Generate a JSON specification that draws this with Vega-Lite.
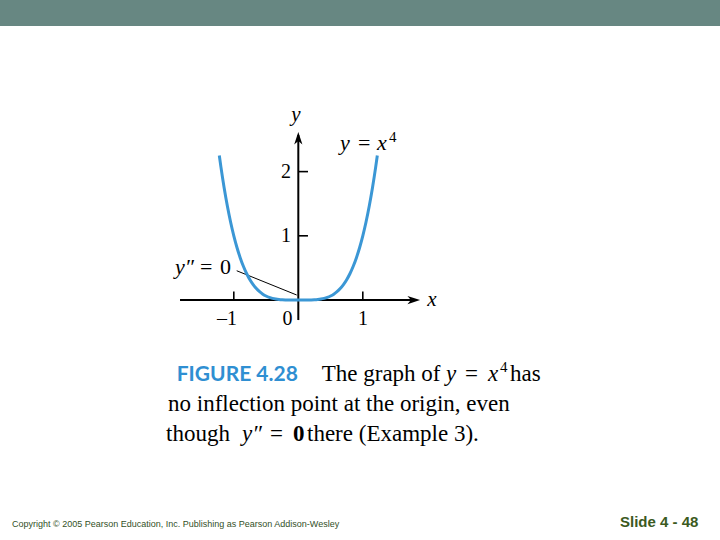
{
  "$schema": "https://vega.github.io/schema/vega-lite/v6.json",
  "width": 720,
  "height": 540,
  "autosize": {"type": "fit", "contains": "padding"},
  "padding": 0,
  "background": "white",
  "config": {"view": {"stroke": null}},
  "datasets": {
    "banner": [{"x": -4.625, "x2": 6.538, "y": 4.268, "y2": 4.673}],
    "curve": [
      {"x": -1.225, "y": 2.2519}, {"x": -1.2, "y": 2.0736}, {"x": -1.15, "y": 1.74901}, {"x": -1.1, "y": 1.4641},
      {"x": -1.05, "y": 1.21551}, {"x": -1.0, "y": 1.0}, {"x": -0.95, "y": 0.81451}, {"x": -0.9, "y": 0.6561},
      {"x": -0.85, "y": 0.52201}, {"x": -0.8, "y": 0.4096}, {"x": -0.75, "y": 0.31641}, {"x": -0.7, "y": 0.2401},
      {"x": -0.65, "y": 0.17851}, {"x": -0.6, "y": 0.1296}, {"x": -0.55, "y": 0.09151}, {"x": -0.5, "y": 0.0625},
      {"x": -0.45, "y": 0.04101}, {"x": -0.4, "y": 0.0256}, {"x": -0.35, "y": 0.01501}, {"x": -0.3, "y": 0.0081},
      {"x": -0.25, "y": 0.00391}, {"x": -0.2, "y": 0.0016}, {"x": -0.15, "y": 0.00051}, {"x": -0.1, "y": 0.0001},
      {"x": -0.05, "y": 0.00001}, {"x": 0.0, "y": 0.0}, {"x": 0.05, "y": 0.00001}, {"x": 0.1, "y": 0.0001},
      {"x": 0.15, "y": 0.00051}, {"x": 0.2, "y": 0.0016}, {"x": 0.25, "y": 0.00391}, {"x": 0.3, "y": 0.0081},
      {"x": 0.35, "y": 0.01501}, {"x": 0.4, "y": 0.0256}, {"x": 0.45, "y": 0.04101}, {"x": 0.5, "y": 0.0625},
      {"x": 0.55, "y": 0.09151}, {"x": 0.6, "y": 0.1296}, {"x": 0.65, "y": 0.17851}, {"x": 0.7, "y": 0.2401},
      {"x": 0.75, "y": 0.31641}, {"x": 0.8, "y": 0.4096}, {"x": 0.85, "y": 0.52201}, {"x": 0.9, "y": 0.6561},
      {"x": 0.95, "y": 0.81451}, {"x": 1.0, "y": 1.0}, {"x": 1.05, "y": 1.21551}, {"x": 1.1, "y": 1.4641},
      {"x": 1.15, "y": 1.74901}, {"x": 1.2, "y": 2.0736}, {"x": 1.225, "y": 2.2519}
    ],
    "axes": [
      {"x": -1.834, "y": 0, "x2": 1.80, "y2": 0},
      {"x": 0, "y": -0.312, "x2": 0, "y2": 2.57}
    ],
    "ticks": [
      {"x": -1, "y": 0, "x2": -1, "y2": 0.132},
      {"x": 1, "y": 0, "x2": 1, "y2": 0.132},
      {"x": 0, "y": 1, "x2": 0.15, "y2": 1},
      {"x": 0, "y": 2, "x2": 0.15, "y2": 2}
    ],
    "leader": [{"x": -0.955, "y": 0.456, "x2": -0.025, "y2": 0.078}],
    "arrows": [
      {"x": 1.79, "y": 0, "dir": "right"},
      {"x": 0, "y": 2.52, "dir": "up"}
    ],
    "ticklabels": [
      {"x": -0.19, "y": 1.896, "label": "2"},
      {"x": -0.19, "y": 0.896, "label": "1"},
      {"x": -1.105, "y": -0.389, "label": "–1"},
      {"x": -0.167, "y": -0.389, "label": "0"},
      {"x": 1.003, "y": -0.389, "label": "1"}
    ],
    "axislabels": [
      {"x": -0.036, "y": 2.788, "label": "y"},
      {"x": 2.073, "y": -0.089, "label": "x"}
    ],
    "mathItalic": [
      {"x": 0.647, "y": 2.341, "label": "y"},
      {"x": 1.22, "y": 2.341, "label": "x"},
      {"x": -1.912, "y": 0.405, "label": "y″"}
    ],
    "mathRegular": [
      {"x": 0.926, "y": 2.341, "label": "="},
      {"x": -1.524, "y": 0.405, "label": "="},
      {"x": -1.214, "y": 0.405, "label": "0"}
    ],
    "mathSup": [{"x": 1.406, "y": 2.461, "label": "4"}],
    "figure": [{"x": -1.885, "y": -1.254, "label": "FIGURE 4.28"}],
    "capRegular": [
      {"x": 0.363, "y": -1.254, "label": "The graph of"},
      {"x": 2.584, "y": -1.254, "label": "="},
      {"x": 3.282, "y": -1.254, "label": "has"},
      {"x": -2.02, "y": -1.721, "label": "no inflection point at the origin, even"},
      {"x": -2.051, "y": -2.196, "label": "though"},
      {"x": -0.439, "y": -2.196, "label": "="},
      {"x": 0.135, "y": -2.196, "label": "there (Example 3)."}
    ],
    "capItalic": [
      {"x": 2.29, "y": -1.254, "label": "y"},
      {"x": 2.941, "y": -1.254, "label": "x"},
      {"x": -0.873, "y": -2.196, "label": "y″"}
    ],
    "capBold": [{"x": -0.082, "y": -2.196, "label": "0"}],
    "capSup": [{"x": 3.127, "y": -1.121, "label": "4"}],
    "copyright": [{"x": -4.439, "y": -3.536, "label": "Copyright © 2005 Pearson Education, Inc.  Publishing as Pearson Addison-Wesley"}],
    "slide": [{"x": 4.988, "y": -3.536, "label": "Slide 4 - 48"}]
  },
  "encoding": {
    "x": {"field": "x", "type": "quantitative", "scale": {"domain": [-4.625, 6.538], "nice": false, "zero": false}, "axis": null},
    "y": {"field": "y", "type": "quantitative", "scale": {"domain": [-3.738, 4.673], "nice": false, "zero": false}, "axis": null}
  },
  "layer": [
    {
      "data": {"name": "banner"},
      "mark": {"type": "rect", "color": "#678782"},
      "encoding": {"x2": {"field": "x2"}, "y2": {"field": "y2"}}
    },
    {
      "data": {"name": "axes"},
      "mark": {"type": "rule", "color": "black", "strokeWidth": 2},
      "encoding": {"x2": {"field": "x2"}, "y2": {"field": "y2"}}
    },
    {
      "data": {"name": "ticks"},
      "mark": {"type": "rule", "color": "black", "strokeWidth": 1.6},
      "encoding": {"x2": {"field": "x2"}, "y2": {"field": "y2"}}
    },
    {
      "data": {"name": "leader"},
      "mark": {"type": "rule", "color": "black", "strokeWidth": 1},
      "encoding": {"x2": {"field": "x2"}, "y2": {"field": "y2"}}
    },
    {
      "data": {"name": "arrows"},
      "mark": {"type": "point", "filled": true, "color": "black", "opacity": 1, "size": 160},
      "encoding": {
        "shape": {"field": "dir", "type": "nominal", "legend": null,
          "scale": {"domain": ["right", "up"], "range": ["M1,0L-1,-0.65L-0.45,0L-1,0.65Z", "M0,-1L-0.65,1L0,0.45L0.65,1Z"]}}
      }
    },
    {
      "data": {"name": "curve"},
      "mark": {"type": "line", "color": "#3b97d5", "strokeWidth": 3, "interpolate": "monotone"},
      "encoding": {}
    },
    {
      "data": {"name": "ticklabels"},
      "mark": {"type": "text", "font": "Liberation Serif", "fontSize": 20, "align": "center", "baseline": "alphabetic", "color": "black"},
      "encoding": {"text": {"field": "label"}}
    },
    {
      "data": {"name": "axislabels"},
      "mark": {"type": "text", "font": "Liberation Serif", "fontStyle": "italic", "fontSize": 21, "align": "center", "baseline": "alphabetic", "color": "black"},
      "encoding": {"text": {"field": "label"}}
    },
    {
      "data": {"name": "mathItalic"},
      "mark": {"type": "text", "font": "Liberation Serif", "fontStyle": "italic", "fontSize": 22, "align": "left", "baseline": "alphabetic", "color": "black"},
      "encoding": {"text": {"field": "label"}}
    },
    {
      "data": {"name": "mathRegular"},
      "mark": {"type": "text", "font": "Liberation Serif", "fontSize": 22, "align": "left", "baseline": "alphabetic", "color": "black"},
      "encoding": {"text": {"field": "label"}}
    },
    {
      "data": {"name": "mathSup"},
      "mark": {"type": "text", "font": "Liberation Serif", "fontSize": 15, "align": "left", "baseline": "alphabetic", "color": "black"},
      "encoding": {"text": {"field": "label"}}
    },
    {
      "data": {"name": "figure"},
      "mark": {"type": "text", "font": "Lato", "fontWeight": "bold", "fontSize": 21, "align": "left", "baseline": "alphabetic", "color": "#2f8fd2"},
      "encoding": {"text": {"field": "label"}}
    },
    {
      "data": {"name": "capRegular"},
      "mark": {"type": "text", "font": "Liberation Serif", "fontSize": 23, "align": "left", "baseline": "alphabetic", "color": "black"},
      "encoding": {"text": {"field": "label"}}
    },
    {
      "data": {"name": "capItalic"},
      "mark": {"type": "text", "font": "Liberation Serif", "fontStyle": "italic", "fontSize": 23, "align": "left", "baseline": "alphabetic", "color": "black"},
      "encoding": {"text": {"field": "label"}}
    },
    {
      "data": {"name": "capBold"},
      "mark": {"type": "text", "font": "Liberation Serif", "fontWeight": "bold", "fontSize": 23, "align": "left", "baseline": "alphabetic", "color": "black"},
      "encoding": {"text": {"field": "label"}}
    },
    {
      "data": {"name": "capSup"},
      "mark": {"type": "text", "font": "Liberation Serif", "fontSize": 15, "align": "left", "baseline": "alphabetic", "color": "black"},
      "encoding": {"text": {"field": "label"}}
    },
    {
      "data": {"name": "copyright"},
      "mark": {"type": "text", "font": "Liberation Sans", "fontSize": 9, "align": "left", "baseline": "alphabetic", "color": "#33501f"},
      "encoding": {"text": {"field": "label"}}
    },
    {
      "data": {"name": "slide"},
      "mark": {"type": "text", "font": "Liberation Sans", "fontWeight": "bold", "fontSize": 15, "align": "left", "baseline": "alphabetic", "color": "#3b5a1e"},
      "encoding": {"text": {"field": "label"}}
    }
  ]
}
